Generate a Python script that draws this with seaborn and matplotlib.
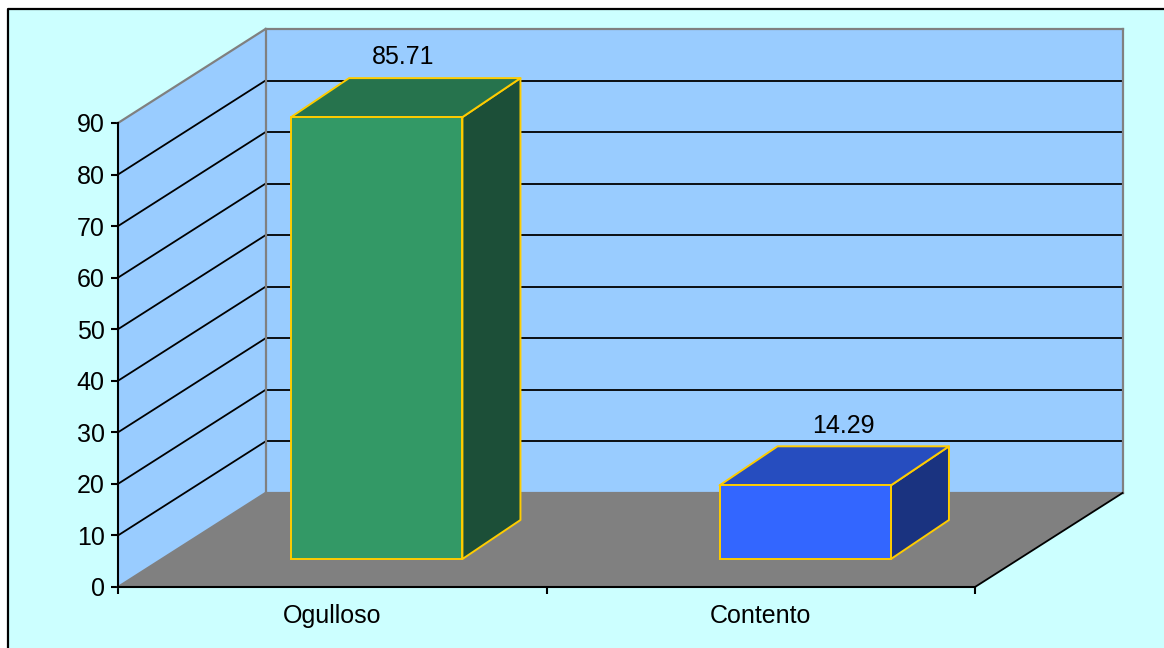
import matplotlib
matplotlib.use("Agg")
import matplotlib.pyplot as plt
import seaborn as sns
from matplotlib.patches import Polygon, Rectangle
from matplotlib.lines import Line2D
from matplotlib.transforms import Affine2D

categories = ["Ogulloso", "Contento"]
values = [85.71, 14.29]
value_labels = ["85.71", "14.29"]
front_colors = ["#339966", "#3366FF"]
top_colors = ["#26734D", "#264DBF"]
side_colors = ["#1C4F38", "#1A3380"]
y_ticks = [0, 10, 20, 30, 40, 50, 60, 70, 80, 90]

W, H = 1164, 648
BG, WALL, FLOOR, GREY, EDGE = "#CCFFFF", "#99CCFF", "#808080", "#808080", "#FFCC00"
FS = 18

sns.set_theme(style="white", rc={"font.family": ["Liberation Sans", "DejaVu Sans"]})
fig = plt.figure(figsize=(W / 100, H / 100), dpi=100, facecolor="white")

# chart-area background with its black left and top border
fig.add_artist(Rectangle((8 / W, 0), 1, 1 - 8 / H, transform=fig.transFigure,
                         facecolor=BG, edgecolor="none", zorder=-5))
fig.add_artist(Line2D([8 / W, 8 / W, 1], [0, 1 - 8.5 / H, 1 - 8.5 / H],
                      transform=fig.transFigure, color="black", lw=1.6, zorder=-4))

ax = fig.add_axes([118 / W, (H - 587) / H, (975 - 118) / W, (587 - 123) / H])
ax.patch.set_alpha(0)

sns.barplot(x=categories, y=values, hue=categories, palette=front_colors, legend=False,
            width=0.4, edgecolor=EDGE, linewidth=1.4, saturation=1, ax=ax, zorder=5)

ax.set_xlim(-0.5, 1.5)
ax.set_ylim(0, 90)
x0, x1 = ax.get_xlim()
y0, y1 = ax.get_ylim()


def shift(dx, dy):
    """Data coordinates moved back into the 3D depth by dx, dy pixels."""
    return ax.transData + Affine2D().translate(dx, dy)


WALL_D = (147.5, 94)
BAR_F = (44.5, 28)
BAR_B = (102.5, 67)
LABEL_SHIFT = [(26, 60), (38, 59)]

front = ax.transData
back = shift(*WALL_D)


def to_px(points, tr):
    return tr.transform(points)


def face(points_with_tr, **kw):
    pts = [to_px([p], tr)[0] for p, tr in points_with_tr]
    ax.add_patch(Polygon(pts, closed=True, transform=None, clip_on=False, **kw))


fig.canvas.draw()

# walls and floor
face([((x0, y0), front), ((x0, y1), front), ((x0, y1), back), ((x0, y0), back)],
     facecolor=WALL, edgecolor="none", zorder=1)
face([((x0, y0), back), ((x0, y1), back), ((x1, y1), back), ((x1, y0), back)],
     facecolor=WALL, edgecolor="none", zorder=1)
face([((x0, y0), front), ((x1, y0), front), ((x1, y0), back), ((x0, y0), back)],
     facecolor=FLOOR, edgecolor="none", zorder=1)


def seg(a, ta, b, tb, **kw):
    pa, pb = to_px([a], ta)[0], to_px([b], tb)[0]
    ax.add_line(Line2D([pa[0], pb[0]], [pa[1], pb[1]], transform=None, clip_on=False,
                       solid_capstyle="projecting", **kw))


# gridlines on side wall and back wall
for v in y_ticks[1:-1]:
    seg((x0, v), front, (x0, v), back, color="black", lw=1.3, zorder=2)
    seg((x0, v), back, (x1, v), back, color="black", lw=1.3, zorder=2)

# grey wall outlines
for a, ta, b, tb in [
    ((x0, y1), front, (x0, y1), back),
    ((x0, y1), back, (x1, y1), back),
    ((x0, y0), back, (x0, y1), back),
    ((x1, y0), back, (x1, y1), back),
    ((x0, y0), back, (x1, y0), back),
    ((x0, y0), front, (x0, y0), back),
]:
    seg(a, ta, b, tb, color=GREY, lw=1.6, zorder=2.5)
seg((x1, y0), front, (x1, y0), back, color="black", lw=1.3, zorder=2.5)

# bars: seaborn front faces pushed into the floor, then side, top faces and labels
bar_front = shift(*BAR_F)
bar_back = shift(*BAR_B)
for patch, val, label, top_c, side_c, (ldx, ldy) in zip(ax.patches[:2], values, value_labels,
                                                        top_colors, side_colors, LABEL_SHIFT):
    left, right = patch.get_x(), patch.get_x() + patch.get_width()
    patch.set_transform(bar_front)
    patch.set_clip_on(False)
    face([((right, 0), bar_front), ((right, val), bar_front),
          ((right, val), bar_back), ((right, 0), bar_back)],
         facecolor=side_c, edgecolor=EDGE, lw=1.4, zorder=4, joinstyle="round")
    face([((left, val), bar_front), ((right, val), bar_front),
          ((right, val), bar_back), ((left, val), bar_back)],
         facecolor=top_c, edgecolor=EDGE, lw=1.4, zorder=4, joinstyle="round")
    cx = (left + right) / 2
    lx, ly = to_px([(cx, val)], shift(BAR_F[0] + ldx, BAR_F[1] + ldy))[0]
    ax.text(lx, ly, label, transform=None, ha="center", va="center", fontsize=FS,
            color="black", zorder=6, clip_on=False)

# axes
sns.despine(ax=ax, top=True, right=True)
for s in ("left", "bottom"):
    ax.spines[s].set_color("black")
    ax.spines[s].set_linewidth(1.5)
    ax.spines[s].set_zorder(3)
ax.set_yticks(y_ticks)
ax.set_yticklabels([str(t) for t in y_ticks])
ax.tick_params(axis="y", which="major", left=True, length=5, width=1.5, color="black",
               labelsize=FS, labelcolor="black", pad=4.5)
ax.set_xticks([x0, (x0 + x1) / 2, x1])
ax.set_xticklabels(["", "", ""])
ax.set_xticks([0, 1], minor=True)
ax.set_xticklabels(categories, minor=True)
ax.tick_params(axis="x", which="major", bottom=True, length=5, width=1.5, color="black")
ax.tick_params(axis="x", which="minor", bottom=False, length=0, labelsize=FS,
               labelcolor="black", pad=12.5)
ax.grid(False)

fig.savefig("out.png", dpi=100, facecolor="white")
